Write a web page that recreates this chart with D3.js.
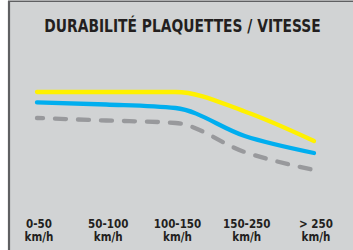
<!DOCTYPE html>
<html>
<head>
<meta charset="utf-8">
<script src="https://cdn.jsdelivr.net/npm/d3@7"></script>
<style>
  body { margin: 0; background: #fff; }
  svg { display: block; }
</style>
</head>
<body>
<div id="main"></div>
<script>
// categories (vitesse) and durability values per pad type (arbitrary 0-100 scale)
var speeds = ["0-50", "50-100", "100-150", "150-250", "> 250"];
var unitLabel = "km/h";
var yellowVals = [88, 88, 88, 68.5, 39];
var blueVals = [77.7, 75.5, 72, 44, 27];
var greyVals = [62, 59.5, 57, 28, 10];
var title = "DURABILITÉ PLAQUETTES / VITESSE";

var width = 353, height = 250;

var svg = d3.select("#main").append("svg")
  .attr("width", width)
  .attr("height", height);

// panel background + left/top border
svg.append("rect")
  .attr("x", 9).attr("y", 1)
  .attr("width", width - 9).attr("height", height - 1)
  .attr("fill", "#d1d3d4");
svg.append("line")
  .attr("x1", 9).attr("x2", 9).attr("y1", 1).attr("y2", height)
  .attr("stroke", "#5f6062").attr("stroke-width", 2.2);
svg.append("line")
  .attr("x1", 8).attr("x2", width).attr("y1", 1.2).attr("y2", 1.2)
  .attr("stroke", "#5f6062").attr("stroke-width", 1.6);

// condensed title: squeeze horizontally with a transform
svg.append("text")
  .attr("transform", "translate(182.5,31.5) scale(0.865,1)")
  .attr("text-anchor", "middle")
  .attr("font-family", "'DejaVu Sans Condensed', 'DejaVu Sans', sans-serif")
  .attr("font-weight", "bold")
  .attr("font-size", 17.8)
  .attr("fill", "#231f20")
  .text(title);

var x = d3.scalePoint()
  .domain(speeds)
  .range([37, 314]);

var y = d3.scaleLinear()
  .domain([0, 100])
  .range([180, 80]);

var line = d3.line()
  .x(function (d, i) { return x(speeds[i]); })
  .y(function (d) { return y(d); })
  .curve(d3.curveMonotoneX);

var series = [
  { vals: greyVals, color: "#98999c", dash: "11,12" },
  { vals: blueVals, color: "#00aeef", dash: null },
  { vals: yellowVals, color: "#fff100", dash: null }
];

svg.selectAll(".serie")
  .data(series)
  .enter().append("path")
  .attr("class", "serie")
  .attr("d", function (d) { return line(d.vals); })
  .attr("fill", "none")
  .attr("stroke", function (d) { return d.color; })
  .attr("stroke-width", 4.3)
  .attr("stroke-linecap", "round")
  .attr("stroke-linejoin", "round")
  .attr("stroke-dasharray", function (d) { return d.dash; })
  .attr("stroke-dashoffset", function (d) { return d.dash ? 5 : null; });

// x labels: speed range, then unit below
function xLabel(cls, yPos, txt) {
  svg.selectAll("." + cls)
    .data(speeds)
    .enter().append("text")
    .attr("class", cls)
    .attr("x", function (d) { return x(d) + 2; })
    .attr("y", yPos)
    .attr("text-anchor", "middle")
    .attr("font-family", "'DejaVu Sans Condensed', 'DejaVu Sans', sans-serif")
    .attr("font-weight", "bold")
    .attr("font-size", 11.5)
    .attr("fill", "#231f20")
    .text(txt);
}
xLabel("xlab", 227.5, function (d) { return d; });
xLabel("xunit", 240.5, unitLabel);
</script>
</body>
</html>
